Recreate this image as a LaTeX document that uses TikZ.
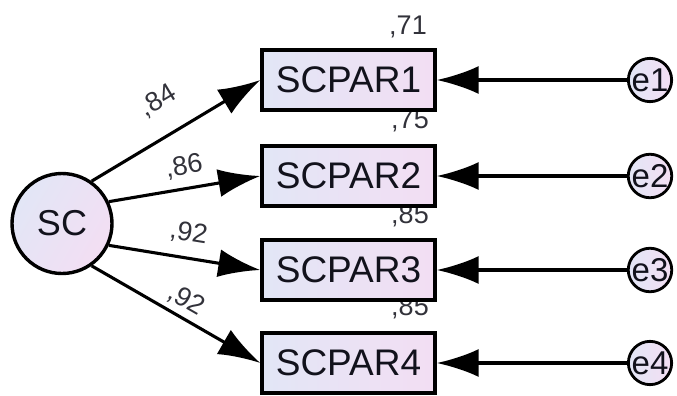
\documentclass[tikz,border=0pt]{standalone}
\usepackage{fontspec}
\setmainfont{Liberation Sans}
\usetikzlibrary{arrows.meta}

\definecolor{boxL}{RGB}{226,230,246}
\definecolor{boxR}{RGB}{243,222,243}
\definecolor{ink}{RGB}{18,18,28}
\definecolor{coefgray}{RGB}{50,50,58}

\tikzset{
  obsbox/.style={draw, rectangle, line width=3.4pt, minimum width=173pt, minimum height=60pt,
    inner sep=0pt, left color=boxL, right color=boxR, text=ink, font=\fontsize{37}{40}\selectfont},
  latent/.style={draw, circle, line width=3.4pt, minimum size=100pt, inner sep=0pt,
    left color=boxL, right color=boxR, shading angle=60, text=ink, font=\fontsize{36}{40}\selectfont},
  errc/.style={draw, circle, line width=2.8pt, minimum size=42pt, inner sep=0pt,
    left color=boxL, right color=boxR, text=ink, font=\fontsize{33}{34}\selectfont},
  coef/.style={inner sep=0pt, text=coefgray, font=\fontsize{27}{29}\selectfont},
  load/.style={-{Latex[length=42pt,width=28pt]}, line width=3.1pt},
  resid/.style={-{Latex[length=42pt,width=28pt]}, line width=3.1pt},
}

\begin{document}
\begin{tikzpicture}[x=1pt,y=-1pt]
  \useasboundingbox (0,0) rectangle (677,396);

  % 方差解释率 (先画, 让方框压住)
  \node[coef] (r1) at (408,27) {,71};
  \node[coef] (r2) at (410,121) {,75};
  \node[coef] (r3) at (410,216) {,85};
  \node[coef] (r4) at (410,308) {,85};

  % 观测变量
  \node[obsbox] (par1) at (348.5,80) {SCPAR1};
  \node[obsbox] (par2) at (348.5,176) {SCPAR2};
  \node[obsbox] (par3) at (348.5,270) {SCPAR3};
  \node[obsbox] (par4) at (348.5,363) {SCPAR4};

  % 潜变量
  \node[latent] (sc) at (62,223.5) {SC};

  % 误差项
  \node[errc] (e1) at (650,80) {e1};
  \node[errc] (e2) at (650,176) {e2};
  \node[errc] (e3) at (650,270) {e3};
  \node[errc] (e4) at (650,363) {e4};

  % 因子载荷
  \draw[load] (sc.55) -- node[coef, pos=0.5, sloped, above=22pt] (w1) {,84} (par1.west);
  \draw[load] (sc.25) -- node[coef, pos=0.52, sloped, above=9pt] (w2) {,86} (par2.west);
  \draw[load] (sc.-25) -- node[coef, pos=0.5, sloped, above=12pt] (w3) {,92} (par3.west);
  \draw[load] (sc.-55) -- node[coef, pos=0.51, sloped, above=5pt] (w4) {,92} (par4.west);

  % 误差 -> 观测变量
  \draw[resid] (e1.west) -- (par1.east);
  \draw[resid] (e2.west) -- (par2.east);
  \draw[resid] (e3.west) -- (par3.east);
  \draw[resid] (e4.west) -- (par4.east);
\end{tikzpicture}
\end{document}
